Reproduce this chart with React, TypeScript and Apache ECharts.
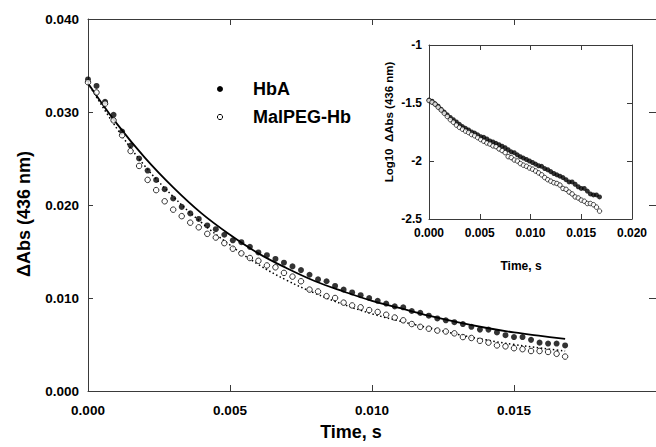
import React, { useEffect, useRef } from "react";
import * as echarts from "echarts";

const times = [
  0.0, 0.0003, 0.0006, 0.0009, 0.0012, 0.0015, 0.0018, 0.0021, 0.0024, 0.0027,
  0.003, 0.0033, 0.0036, 0.0039, 0.0042, 0.0045, 0.0048, 0.0051, 0.0054, 0.0057,
  0.006, 0.0063, 0.0066, 0.0069, 0.0072, 0.0075, 0.0078, 0.0081, 0.0084, 0.0087,
  0.009, 0.0093, 0.0096, 0.0099, 0.0102, 0.0105, 0.0108, 0.0111, 0.0114, 0.0117,
  0.012, 0.0123, 0.0126, 0.0129, 0.0132, 0.0135, 0.0138, 0.0141, 0.0144, 0.0147,
  0.015, 0.0153, 0.0156, 0.0159, 0.0162, 0.0165, 0.0168,
];

const hbaValues = [
  0.0335, 0.0328, 0.0311, 0.0297, 0.0279, 0.0264, 0.025, 0.0237, 0.0227, 0.0217,
  0.0207, 0.0198, 0.0191, 0.0185, 0.0178, 0.0174, 0.0168, 0.0162, 0.016, 0.0155,
  0.0149, 0.0146, 0.0142, 0.0138, 0.0134, 0.013, 0.0125, 0.012, 0.0118, 0.0113,
  0.0109, 0.0106, 0.0103, 0.01, 0.0097, 0.0094, 0.0091, 0.009, 0.0086, 0.0084,
  0.0081, 0.0078, 0.0076, 0.0074, 0.0072, 0.0069, 0.0066, 0.0066, 0.0063, 0.006,
  0.0058, 0.0058, 0.0055, 0.0052, 0.0051, 0.0051, 0.0049,
];

const malpegValues = [
  0.0332, 0.0321, 0.0309, 0.0291, 0.0275, 0.0258, 0.0242, 0.0227, 0.0216, 0.0204,
  0.0195, 0.0188, 0.0181, 0.0176, 0.0169, 0.0165, 0.0159, 0.0153, 0.0148, 0.0143,
  0.014, 0.0135, 0.0133, 0.0127, 0.0123, 0.0118, 0.0109, 0.0107, 0.0102, 0.01,
  0.0095, 0.0092, 0.009, 0.0087, 0.0085, 0.0082, 0.0079, 0.0076, 0.0072, 0.0069,
  0.0067, 0.0065, 0.0064, 0.0062, 0.0058, 0.0057, 0.0054, 0.0052, 0.0049, 0.0048,
  0.0046, 0.0045, 0.0043, 0.0043, 0.0042, 0.004, 0.0037,
];

const fitTimes = [
  0.0, 0.001, 0.002, 0.003, 0.004, 0.005, 0.006, 0.007, 0.008, 0.009, 0.01,
  0.011, 0.012, 0.013, 0.014, 0.015, 0.016, 0.0168,
];
const hbaFit = [
  0.0331, 0.0288, 0.0251, 0.0219, 0.0191, 0.0168, 0.0148, 0.0132, 0.0118,
  0.0107, 0.0097, 0.0089, 0.0081, 0.0074, 0.0068, 0.0063, 0.0059, 0.0056,
];
const malpegFit = [
  0.0331, 0.0283, 0.0242, 0.0209, 0.0181, 0.0157, 0.0136, 0.0119, 0.0105,
  0.0093, 0.0083, 0.0075, 0.0068, 0.0061, 0.0055, 0.005, 0.0046, 0.0043,
];

const legendNames = ["HbA", "MalPEG-Hb"];
const mainYTitle = "ΔAbs (436 nm)";
const mainXTitle = "Time, s";
const insetYTitle = "Log10  ΔAbs (436 nm)";
const insetXTitle = "Time, s";

const FONT = "'Liberation Sans', Arial, Helvetica, sans-serif";
const AXIS_COLOR = "#3a3a3a";

function zip(xs: number[], ys: number[]) {
  return xs.map((x, i) => [x, ys[i]]);
}

export default function App() {
  const ref = useRef<HTMLDivElement>(null);

  useEffect(() => {
    document.body.style.margin = "0";
    if (!ref.current) return;
    const chart = echarts.init(ref.current, null, { renderer: "svg" });

    const tickLabel = (size: number, margin: number, fmt: (v: number) => string) => ({
      show: true,
      color: "#000",
      fontFamily: FONT,
      fontWeight: "bold" as const,
      fontSize: size,
      margin,
      formatter: fmt,
    });

    const mainX = {
      type: "value" as const,
      min: 0,
      max: 0.02,
      interval: 0.005,
      splitLine: { show: false },
      axisLine: { show: true, onZero: false, lineStyle: { color: AXIS_COLOR, width: 1 } },
      axisTick: { show: true, inside: true, length: 6, lineStyle: { color: AXIS_COLOR } },
    };
    const mainY = {
      type: "value" as const,
      min: 0,
      max: 0.04,
      interval: 0.01,
      splitLine: { show: false },
      axisLine: { show: true, onZero: false, lineStyle: { color: AXIS_COLOR, width: 1 } },
      axisTick: { show: true, inside: true, length: 5, lineStyle: { color: AXIS_COLOR } },
    };
    const insetX = {
      type: "value" as const,
      min: 0,
      max: 0.02,
      interval: 0.005,
      splitLine: { show: false },
      axisLine: { show: true, onZero: false, lineStyle: { color: AXIS_COLOR, width: 1 } },
      axisTick: { show: true, inside: true, length: 5, lineStyle: { color: AXIS_COLOR } },
    };
    const insetY = {
      type: "value" as const,
      min: -2.5,
      max: -1,
      interval: 0.5,
      splitLine: { show: false },
      axisLine: { show: true, onZero: false, lineStyle: { color: AXIS_COLOR, width: 1 } },
      axisTick: { show: true, inside: true, length: 5, lineStyle: { color: AXIS_COLOR } },
    };

    const logHba = times.map((t, i) => [t, Math.log10(hbaValues[i])]);
    const logPeg = times.map((t, i) => [t, Math.log10(malpegValues[i])]);

    chart.setOption({
      animation: false,
      backgroundColor: "#fff",
      grid: [
        { left: 88, top: 19, width: 572, height: 372, containLabel: false },
        {
          left: 429,
          top: 45,
          width: 203,
          height: 174,
          containLabel: false,
          show: true,
          backgroundColor: "#fff",
          borderWidth: 0,
        },
      ],
      xAxis: [
        {
          ...mainX,
          gridIndex: 0,
          position: "bottom",
          axisLabel: { ...tickLabel(13.5, 12, (v: number) => v.toFixed(3)), showMaxLabel: false },
        },
        { ...mainX, gridIndex: 0, position: "top", axisLabel: { show: false } },
        {
          ...insetX,
          gridIndex: 1,
          position: "bottom",
          axisLabel: tickLabel(12, 8, (v: number) => v.toFixed(3)),
        },
        { ...insetX, gridIndex: 1, position: "top", axisLabel: { show: false } },
      ],
      yAxis: [
        {
          ...mainY,
          gridIndex: 0,
          position: "left",
          axisLabel: tickLabel(13.5, 9, (v: number) => v.toFixed(3)),
        },
        {
          ...mainY,
          gridIndex: 0,
          position: "right",
          axisTick: { show: true, inside: true, length: 7, lineStyle: { color: AXIS_COLOR } },
          axisLabel: { show: false },
        },
        {
          ...insetY,
          gridIndex: 1,
          position: "left",
          axisLabel: tickLabel(12, 7, (v: number) => String(v)),
        },
        { ...insetY, gridIndex: 1, position: "right", axisLabel: { show: false } },
      ],
      series: [
        {
          type: "line",
          name: "HbA fit",
          xAxisIndex: 0,
          yAxisIndex: 0,
          data: zip(fitTimes, hbaFit),
          smooth: 0.4,
          showSymbol: false,
          lineStyle: { color: "#000", width: 1.8 },
          z: 2,
        },
        {
          type: "line",
          name: "MalPEG-Hb fit",
          xAxisIndex: 0,
          yAxisIndex: 0,
          data: zip(fitTimes, malpegFit),
          smooth: 0.4,
          showSymbol: false,
          lineStyle: { color: "#000", width: 1.5, type: [1.5, 2.5] },
          z: 2,
        },
        {
          type: "scatter",
          name: legendNames[0],
          xAxisIndex: 0,
          yAxisIndex: 0,
          data: zip(times, hbaValues),
          symbol: "circle",
          symbolSize: 6,
          itemStyle: { color: "#000" },
          z: 3,
        },
        {
          type: "scatter",
          name: legendNames[1],
          xAxisIndex: 0,
          yAxisIndex: 0,
          data: zip(times, malpegValues),
          symbol: "circle",
          symbolSize: 5.5,
          itemStyle: { color: "#fff", borderColor: "#000", borderWidth: 1 },
          z: 3,
        },
        {
          type: "scatter",
          name: "HbA log",
          xAxisIndex: 2,
          yAxisIndex: 2,
          data: logHba,
          symbol: "circle",
          symbolSize: 5,
          itemStyle: { color: "#000" },
          z: 3,
        },
        {
          type: "scatter",
          name: "MalPEG-Hb log",
          xAxisIndex: 2,
          yAxisIndex: 2,
          data: logPeg,
          symbol: "circle",
          symbolSize: 4.5,
          itemStyle: { color: "#fff", borderColor: "#000", borderWidth: 0.9 },
          z: 3,
        },
      ],
      graphic: [
        {
          type: "text",
          x: 24,
          y: 214,
          rotation: Math.PI / 2,
          style: {
            text: mainYTitle,
            fill: "#000",
            font: `bold 18px ${FONT}`,
            align: "center",
            verticalAlign: "middle",
          },
        },
        {
          type: "text",
          x: 351,
          y: 432,
          style: {
            text: mainXTitle,
            fill: "#000",
            font: `bold 18px ${FONT}`,
            align: "center",
            verticalAlign: "middle",
          },
        },
        {
          type: "text",
          x: 389,
          y: 122,
          rotation: Math.PI / 2,
          style: {
            text: insetYTitle,
            fill: "#000",
            font: `bold 11.5px ${FONT}`,
            align: "center",
            verticalAlign: "middle",
          },
        },
        {
          type: "text",
          x: 521,
          y: 266,
          style: {
            text: insetXTitle,
            fill: "#000",
            font: `bold 12px ${FONT}`,
            align: "center",
            verticalAlign: "middle",
          },
        },
        {
          type: "circle",
          shape: { cx: 220, cy: 89, r: 3 },
          style: { fill: "#000" },
        },
        {
          type: "circle",
          shape: { cx: 220, cy: 117, r: 2.6 },
          style: { fill: "#fff", stroke: "#000", lineWidth: 1 },
        },
        {
          type: "text",
          x: 253,
          y: 89,
          style: {
            text: legendNames[0],
            fill: "#000",
            font: `bold 18px ${FONT}`,
            align: "left",
            verticalAlign: "middle",
          },
        },
        {
          type: "text",
          x: 253,
          y: 117,
          style: {
            text: legendNames[1],
            fill: "#000",
            font: `bold 18px ${FONT}`,
            align: "left",
            verticalAlign: "middle",
          },
        },
      ],
    });

    return () => {
      chart.dispose();
    };
  }, []);

  return (
    <div
      ref={ref}
      style={{ position: "absolute", left: 0, top: 0, width: 656, height: 447 }}
    />
  );
}
